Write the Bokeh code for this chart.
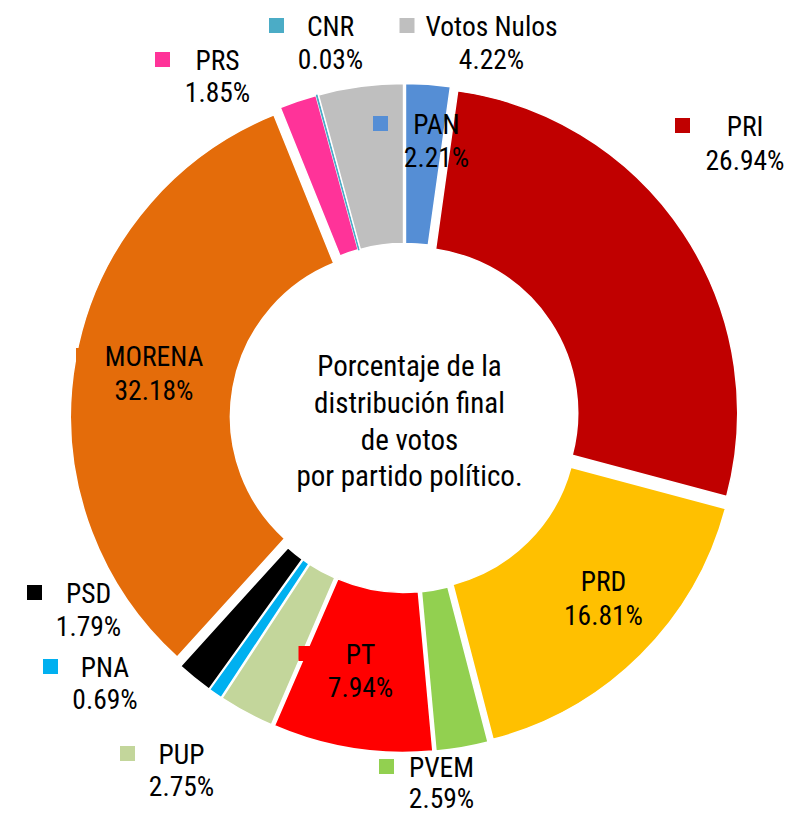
import numpy as np
from bokeh.plotting import figure
from bokeh.models import Range1d, ColumnDataSource
from bokeh.core.properties import value
from bokeh.embed import file_html
from bokeh.resources import INLINE

# ---- data ----
parties = ["PAN", "PRI", "PRD", "PVEM", "PT", "PUP", "PNA", "PSD",
           "MORENA", "PRS", "CNR", "Votos Nulos"]
percent = [2.21, 26.94, 16.81, 2.59, 7.94, 2.75, 0.69, 1.79,
           32.18, 1.85, 0.03, 4.22]
colors = ["#558ED5", "#C00000", "#FFC000", "#92D050", "#FF0000", "#C3D69B",
          "#00B0F0", "#000000", "#E46C0A", "#FF3399", "#4BACC6", "#BFBFBF"]
center_lines = ["Porcentaje de la", "distribución final", "de votos",
                "por partido político."]

# ---- layout (screen pixels) ----
W, H = 788, 815
CX, CY = 404.3, 417.5
R_OUT, R_IN, EXPLODE = 325, 165, 9.5
FONT = value("Roboto Condensed")
TXT_SHIFT = 9        # renderer places text a little low
CTR_SHIFT = 11

# label layout: name centre x, name baseline, pct baseline, key centre x
lab_x = [436, 744.5, 603, 441, 360, 181, 104.5, 88, 153.5, 217, 330, 491]
lab_b1 = [133, 135, 590, 776, 663, 763, 676, 602, 365, 69, 35, 35]
lab_b2 = [166, 169, 624, 807, 696, 795, 708, 635, 399, 101, 68, 68]
key_x = [380, 682, 541.5, 386, 305.5, 127, 50, 34, 83, 162, 276, 406.5]


def sy(y):
    return H - y


frac = np.array(percent) / 100.0
cum = np.concatenate([[0], np.cumsum(frac)])
f0, f1 = cum[:-1], cum[1:]
start = np.pi / 2 - 2 * np.pi * f0
end = np.pi / 2 - 2 * np.pi * f1
mid = np.pi / 2 - np.pi * (f0 + f1)
xs = CX + EXPLODE * np.cos(mid)
ys = sy(CY) + EXPLODE * np.sin(mid)

line_cols = ["white" if p >= 0.1 else c for p, c in zip(percent, colors)]

src = ColumnDataSource(dict(x=xs, y=ys, start=start, end=end, color=colors,
                            lc=line_cols))

p = figure(width=W, height=H, output_backend="svg",
           toolbar_location=None, x_range=Range1d(0, W),
           y_range=Range1d(0, H), min_border=0,
           min_border_left=0, min_border_right=0, min_border_top=0,
           min_border_bottom=0)
p.axis.visible = False
p.grid.visible = False
p.outline_line_color = None
p.background_fill_color = "white"
p.border_fill_color = "white"

p.annular_wedge(x="x", y="y", inner_radius=R_IN, outer_radius=R_OUT,
                start_angle="start", end_angle="end", direction="clock",
                fill_color="color", line_color="lc", line_width=1.5,
                source=src)

# legend keys
p.rect(x=key_x, y=[sy(b - 10) for b in lab_b1], width=15, height=15,
       fill_color=colors, line_color=None)

pct_text = [f"{v:.2f}%" for v in percent]
p.text(x=lab_x, y=[sy(b - TXT_SHIFT) for b in lab_b1], text=parties,
       text_font=FONT, text_font_size="27.5px", text_align="center",
       text_baseline="alphabetic", text_color="black")
p.text(x=lab_x, y=[sy(b - TXT_SHIFT) for b in lab_b2], text=pct_text,
       text_font=FONT, text_font_size="27.5px", text_align="center",
       text_baseline="alphabetic", text_color="black")

# centre title
p.text(x=[409] * 4,
       y=[sy(b - CTR_SHIFT) for b in [376.7, 413.3, 450, 486.7]],
       text=center_lines, text_font=FONT, text_font_size="29px",
       text_align="center", text_baseline="alphabetic", text_color="black")

open("out.html", "w").write(file_html(p, INLINE))
